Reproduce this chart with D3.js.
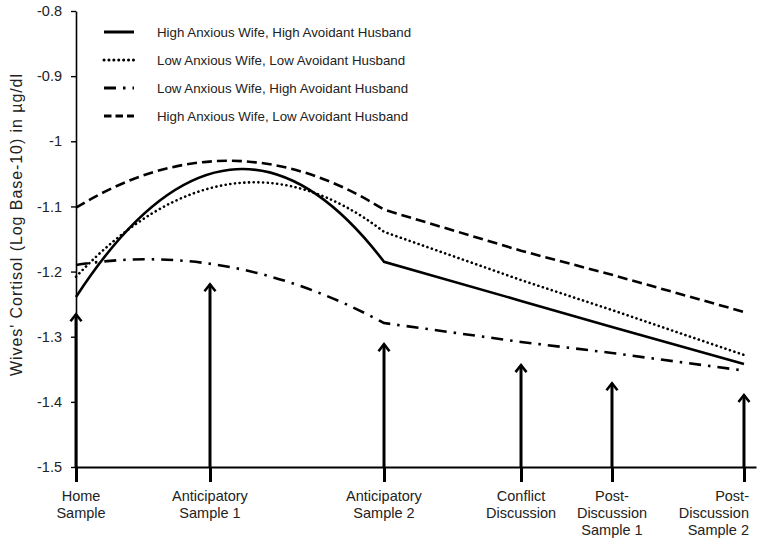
<!DOCTYPE html>
<html>
<head>
<meta charset="utf-8">
<script src="https://cdn.jsdelivr.net/npm/d3@7"></script>
<style>
  html, body { margin: 0; padding: 0; background: #fff; }
  svg { display: block; font-family: "Liberation Sans", Arial, sans-serif; }
</style>
</head>
<body>
<svg id="chart" width="762" height="544"></svg>
<script>
// ---------------- DATA ----------------
const categories = [
  ["Home", "Sample"],
  ["Anticipatory", "Sample 1"],
  ["Anticipatory", "Sample 2"],
  ["Conflict", "Discussion"],
  ["Post-", "Discussion", "Sample 1"],
  ["Post-", "Discussion", "Sample 2"]
];
// relative time of each sample (percent of session)
const sampleTimes = [0, 20.06, 46.11, 66.62, 80.24, 100];

const seriesNames = [
  "High Anxious Wife, High Avoidant Husband",
  "Low Anxious Wife, Low Avoidant Husband",
  "Low Anxious Wife, High Avoidant Husband",
  "High Anxious Wife, Low Avoidant Husband"
];
const hiAnxHiAvo = [-1.239, -1.050, -1.185, -1.245, -1.285, -1.342];
const loAnxLoAvo = [-1.208, -1.072, -1.139, -1.213, -1.259, -1.328];
const loAnxHiAvo = [-1.190, -1.188, -1.279, -1.308, -1.325, -1.352];
const hiAnxLoAvo = [-1.102, -1.031, -1.105, -1.168, -1.205, -1.262];

// height of the sample arrow tips (data units)
const arrowTips = [-1.264, -1.218, -1.310, -1.342, -1.370, -1.388];

const yTickValues = [-1.5, -1.4, -1.3, -1.2, -1.1, -1.0, -0.9, -0.8];
const yTickLabels = ["-1.5", "-1.4", "-1.3", "-1.2", "-1.1", "-1", "-0.9", "-0.8"];
const yTitle = "Wives' Cortisol (Log Base-10) in µg/dl";

// ---------------- CHART ----------------
const svg = d3.select("#chart");
const x = d3.scaleLinear().domain([0, 101.8]).range([76, 756]);
const y = d3.scaleLinear().domain([-1.5, -0.8]).range([467, 11]);

const seriesValues = [hiAnxHiAvo, loAnxLoAvo, loAnxHiAvo, hiAnxLoAvo];
const styles = [
  { dash: null, cap: "butt", legendDash: null },
  { dash: "0.1,4.6", cap: "round", legendDash: "0.1,4.8" },
  { dash: "12,7,2.5,7", cap: "butt", legendDash: "12,7,2.5,7" },
  { dash: "10,5", cap: "butt", legendDash: "7.5,4" }
];

// custom curve: parabola through the first three points, then straight segments
function QuadThenLinear(context) { this._context = context; }
QuadThenLinear.prototype = {
  areaStart() {}, areaEnd() {},
  lineStart() { this._pts = []; },
  point(px, py) { this._pts.push([+px, +py]); },
  lineEnd() {
    const p = this._pts, c = this._context;
    if (!p.length) return;
    c.moveTo(p[0][0], p[0][1]);
    if (p.length >= 3) {
      const [x0, y0] = p[0], [x1, y1] = p[1], [x2, y2] = p[2];
      const d0 = y0 * (2 * x0 - x1 - x2) / ((x0 - x1) * (x0 - x2))
               + y1 * (x0 - x2) / ((x1 - x0) * (x1 - x2))
               + y2 * (x0 - x1) / ((x2 - x0) * (x2 - x1));
      const cx = (x0 + x2) / 2, cy = y0 + d0 * (x2 - x0) / 2;
      c.quadraticCurveTo(cx, cy, x2, y2);
      for (let i = 3; i < p.length; i++) c.lineTo(p[i][0], p[i][1]);
    } else {
      for (let i = 1; i < p.length; i++) c.lineTo(p[i][0], p[i][1]);
    }
  }
};
const quadThenLinear = ctx => new QuadThenLinear(ctx);

const line = d3.line()
  .x((d, i) => x(sampleTimes[i]))
  .y(d => y(d))
  .curve(quadThenLinear);

// Y axis
const yAxis = svg.append("g")
  .attr("transform", `translate(${x(0)},0)`)
  .call(d3.axisLeft(y).tickValues(yTickValues)
    .tickFormat((d, i) => yTickLabels[i]).tickSize(5).tickSizeOuter(0).tickPadding(9));
yAxis.select(".domain").attr("stroke", "#000").attr("stroke-width", 1.6);
yAxis.selectAll(".tick line").attr("stroke", "#000").attr("stroke-width", 1.4);
yAxis.selectAll(".tick text").attr("font-size", 14.5).attr("fill", "#222")
  .attr("font-family", "Liberation Sans, Arial, sans-serif");

// X axis
const xAxis = svg.append("g")
  .attr("transform", `translate(0,${y(-1.5)})`)
  .call(d3.axisBottom(x).tickValues(sampleTimes).tickFormat("").tickSize(15).tickSizeOuter(0));
xAxis.select(".domain").attr("stroke", "#000").attr("stroke-width", 2);
xAxis.selectAll(".tick line").attr("stroke", "#000").attr("stroke-width", 3);

// category labels
categories.forEach((lines, i) => {
  const last = i === categories.length - 1;
  const lx = last ? x(sampleTimes[i]) + 5 : x(sampleTimes[i]) + (i === 0 ? 5 : 0);
  const t = svg.append("text")
    .attr("x", lx)
    .attr("y", 501)
    .attr("text-anchor", last ? "end" : "middle")
    .attr("font-size", 14.5)
    .attr("fill", "#222");
  lines.forEach((s, j) => {
    t.append("tspan")
      .attr("x", lx)
      .attr("dy", j === 0 ? 0 : 17)
      .text(s);
  });
});

// arrows
const arrows = svg.append("g");
sampleTimes.forEach((t, i) => {
  const ax = x(t), tip = y(arrowTips[i]);
  arrows.append("line")
    .attr("x1", ax).attr("x2", ax)
    .attr("y1", y(-1.5)).attr("y2", tip + 1)
    .attr("stroke", "#000").attr("stroke-width", 3);
  arrows.append("path")
    .attr("d", `M${ax - 5.5},${tip + 8} L${ax},${tip + 1} L${ax + 5.5},${tip + 8}`)
    .attr("fill", "none").attr("stroke", "#000").attr("stroke-width", 2.6)
    .attr("stroke-linejoin", "miter");
});

// series lines
svg.append("g").selectAll("path.series")
  .data(seriesValues)
  .join("path")
  .attr("class", "series")
  .attr("d", d => line(d))
  .attr("fill", "none")
  .attr("stroke", "#000")
  .attr("stroke-width", 2.6)
  .attr("stroke-dasharray", (d, i) => styles[i].dash)
  .attr("stroke-linecap", (d, i) => styles[i].cap);

// legend
const legend = svg.append("g");
const legendY = d3.scalePoint().domain(seriesNames).range([32, 116]);
seriesNames.forEach((name, i) => {
  const ly = legendY(name);
  legend.append("line")
    .attr("x1", 104).attr("x2", 134).attr("y1", ly).attr("y2", ly)
    .attr("stroke", "#000").attr("stroke-width", 3)
    .attr("stroke-dasharray", styles[i].legendDash)
    .attr("stroke-linecap", styles[i].cap);
  legend.append("text")
    .attr("x", 157).attr("y", ly + 4.5)
    .attr("font-size", 13.3).attr("fill", "#222")
    .text(name);
});

// y title
svg.append("text")
  .attr("transform", `translate(22,225) rotate(-90)`)
  .attr("text-anchor", "middle")
  .attr("font-size", 16)
  .attr("textLength", 302)
  .attr("lengthAdjust", "spacing")
  .attr("fill", "#222")
  .text(yTitle);
</script>
</body>
</html>
